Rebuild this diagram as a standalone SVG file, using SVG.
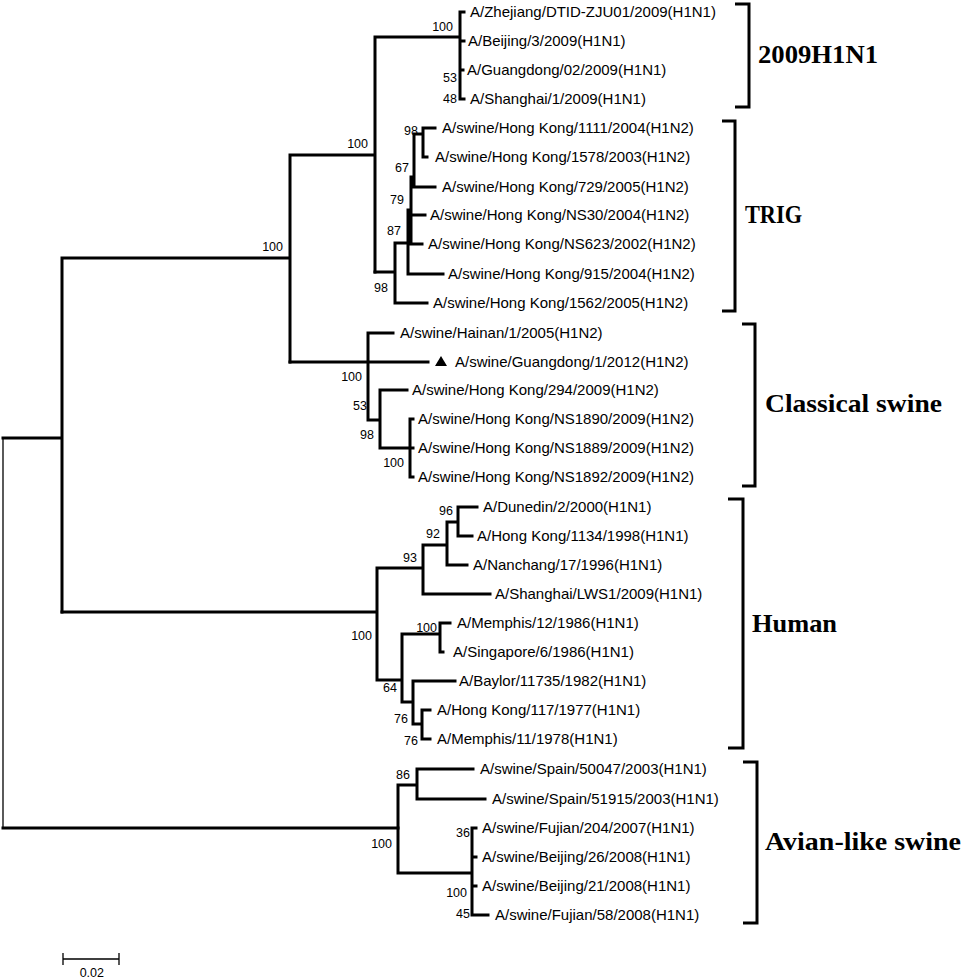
<svg xmlns="http://www.w3.org/2000/svg" width="964" height="980" viewBox="0 0 964 980">
<style>
.br{fill:none;stroke:#000;stroke-width:3;stroke-linecap:square}
.thin{fill:none;stroke:#000;stroke-width:1.3}
.lf{font-family:"Liberation Sans",Arial,sans-serif;font-size:15px;fill:#000}
.bs{font-family:"Liberation Sans",Arial,sans-serif;font-size:12.5px;fill:#000;text-anchor:end}
.cl{font-family:"Liberation Serif","Times New Roman",serif;font-weight:bold;font-size:26px;fill:#000}
.bk{fill:none;stroke:#000;stroke-width:3}
</style>
<rect width="964" height="980" fill="#fff"/>
<g id="connectors">
<path class="thin" d="M3 438V828"/>
<path class="br" d="M3 438H62M3 828H398M62 258V612M62 258H290M290 155V362M290 155H375M375 37V272M375 37H460M460 12V99M460 12H464M460 41H464M460 70H463M460 99H464"/>
<path class="br" d="M375 272H395M395 243V303M395 303H427M395 243H408M408 210V274M408 274H443M408 210H411M411 177V244M411 244H422M413 215H425M414 134V187M414 187H435M414 134H423M423 128V157M423 128H435M423 157H427"/>
<path class="br" d="M290 362H428M368 333V420M368 333H393M368 420H380M380 390V448M380 390H407M380 448H410M410 419V477M410 419H413M410 448H413M410 477H413"/>
<path class="br" d="M62 612H377M377 568V680M377 568H423M423 545V594M423 594H490M423 545H447M447 522V565M447 565H467M447 522H458M458 507V536M458 507H477M458 536H472M377 680H402M402 634V702M402 634H440M440 623V652M440 623H450M440 652H443M402 702H413M413 681V724M413 681H455M413 724H422M422 710V739M422 710H430M422 739H430"/>
<path class="br" d="M398 785V873M398 785H417M417 769V799M417 769H473M417 799H485M398 873H472M472 828V915M472 828H476M472 857H476M472 886H476M472 915H488"/>
</g>
<g id="support">
<text class="bs" x="453" y="31">100</text>
<text class="bs" x="457" y="82">53</text>
<text class="bs" x="457" y="103">48</text>
<text class="bs" x="283" y="251">100</text>
<text class="bs" x="368" y="148">100</text>
<text class="bs" x="418" y="135">98</text>
<text class="bs" x="409" y="172">67</text>
<text class="bs" x="404" y="204">79</text>
<text class="bs" x="401" y="235">87</text>
<text class="bs" x="388" y="292">98</text>
<text class="bs" x="362" y="381">100</text>
<text class="bs" x="367" y="410">53</text>
<text class="bs" x="374" y="439">98</text>
<text class="bs" x="404" y="467">100</text>
<text class="bs" x="453" y="515">96</text>
<text class="bs" x="440" y="538">92</text>
<text class="bs" x="417" y="562">93</text>
<text class="bs" x="372" y="640">100</text>
<text class="bs" x="437" y="632">100</text>
<text class="bs" x="397" y="692">64</text>
<text class="bs" x="408" y="723">76</text>
<text class="bs" x="418" y="745">76</text>
<text class="bs" x="410" y="779">86</text>
<text class="bs" x="392" y="848">100</text>
<text class="bs" x="470" y="837">36</text>
<text class="bs" x="467" y="897">100</text>
<text class="bs" x="470" y="918">45</text>
</g>
<g id="leaf-0"><text class="lf" x="470" y="17">A/Zhejiang/DTID-ZJU01/2009(H1N1)</text></g>
<g id="leaf-1"><text class="lf" x="468" y="46">A/Beijing/3/2009(H1N1)</text></g>
<g id="leaf-2"><text class="lf" x="467" y="75">A/Guangdong/02/2009(H1N1)</text></g>
<g id="leaf-3"><text class="lf" x="470" y="104">A/Shanghai/1/2009(H1N1)</text></g>
<g id="leaf-4"><text class="lf" x="442" y="133">A/swine/Hong Kong/1111/2004(H1N2)</text></g>
<g id="leaf-5"><text class="lf" x="435" y="162">A/swine/Hong Kong/1578/2003(H1N2)</text></g>
<g id="leaf-6"><text class="lf" x="442" y="192">A/swine/Hong Kong/729/2005(H1N2)</text></g>
<g id="leaf-7"><text class="lf" x="430" y="220">A/swine/Hong Kong/NS30/2004(H1N2)</text></g>
<g id="leaf-8"><text class="lf" x="428" y="249">A/swine/Hong Kong/NS623/2002(H1N2)</text></g>
<g id="leaf-9"><text class="lf" x="448" y="279">A/swine/Hong Kong/915/2004(H1N2)</text></g>
<g id="leaf-10"><text class="lf" x="433" y="308">A/swine/Hong Kong/1562/2005(H1N2)</text></g>
<g id="leaf-11"><text class="lf" x="400" y="338">A/swine/Hainan/1/2005(H1N2)</text></g>
<g id="leaf-12"><polygon points="435,366 447,366 441,356" fill="#000"/><text class="lf" x="455" y="367">A/swine/Guangdong/1/2012(H1N2)</text></g>
<g id="leaf-13"><text class="lf" x="412" y="395">A/swine/Hong Kong/294/2009(H1N2)</text></g>
<g id="leaf-14"><text class="lf" x="418" y="424">A/swine/Hong Kong/NS1890/2009(H1N2)</text></g>
<g id="leaf-15"><text class="lf" x="418" y="453">A/swine/Hong Kong/NS1889/2009(H1N2)</text></g>
<g id="leaf-16"><text class="lf" x="418" y="482">A/swine/Hong Kong/NS1892/2009(H1N2)</text></g>
<g id="leaf-17"><text class="lf" x="483" y="512">A/Dunedin/2/2000(H1N1)</text></g>
<g id="leaf-18"><text class="lf" x="477" y="541">A/Hong Kong/1134/1998(H1N1)</text></g>
<g id="leaf-19"><text class="lf" x="473" y="570">A/Nanchang/17/1996(H1N1)</text></g>
<g id="leaf-20"><text class="lf" x="495" y="599">A/Shanghai/LWS1/2009(H1N1)</text></g>
<g id="leaf-21"><text class="lf" x="457" y="628">A/Memphis/12/1986(H1N1)</text></g>
<g id="leaf-22"><text class="lf" x="453" y="657">A/Singapore/6/1986(H1N1)</text></g>
<g id="leaf-23"><text class="lf" x="459" y="686">A/Baylor/11735/1982(H1N1)</text></g>
<g id="leaf-24"><text class="lf" x="437" y="715">A/Hong Kong/117/1977(H1N1)</text></g>
<g id="leaf-25"><text class="lf" x="437" y="744">A/Memphis/11/1978(H1N1)</text></g>
<g id="leaf-26"><text class="lf" x="480" y="774">A/swine/Spain/50047/2003(H1N1)</text></g>
<g id="leaf-27"><text class="lf" x="492" y="804">A/swine/Spain/51915/2003(H1N1)</text></g>
<g id="leaf-28"><text class="lf" x="482" y="833">A/swine/Fujian/204/2007(H1N1)</text></g>
<g id="leaf-29"><text class="lf" x="482" y="862">A/swine/Beijing/26/2008(H1N1)</text></g>
<g id="leaf-30"><text class="lf" x="482" y="891">A/swine/Beijing/21/2008(H1N1)</text></g>
<g id="leaf-31"><text class="lf" x="495" y="920">A/swine/Fujian/58/2008(H1N1)</text></g>
<g id="clade-2009H1N1"><path class="bk" d="M735 4H749V107H735"/><text class="cl" x="758" y="63" textLength="120" lengthAdjust="spacingAndGlyphs">2009H1N1</text></g>
<g id="clade-TRIG"><path class="bk" d="M722 121H735V311H722"/><text class="cl" x="745" y="223" textLength="57" lengthAdjust="spacingAndGlyphs">TRIG</text></g>
<g id="clade-classical"><path class="bk" d="M742 324H755V486H742"/><text class="cl" x="765" y="412" textLength="177" lengthAdjust="spacingAndGlyphs">Classical swine</text></g>
<g id="clade-human"><path class="bk" d="M728 499H743V748H728"/><text class="cl" x="752" y="632" textLength="85" lengthAdjust="spacingAndGlyphs">Human</text></g>
<g id="clade-avian"><path class="bk" d="M743 762H757V923H743"/><text class="cl" x="765" y="850" textLength="196" lengthAdjust="spacingAndGlyphs">Avian-like swine</text></g>
<g id="scale-bar">
<path class="thin" d="M63 959H119M63 953V965M119 953V965"/>
<text class="bs" x="104" y="977">0.02</text>
</g>
</svg>
